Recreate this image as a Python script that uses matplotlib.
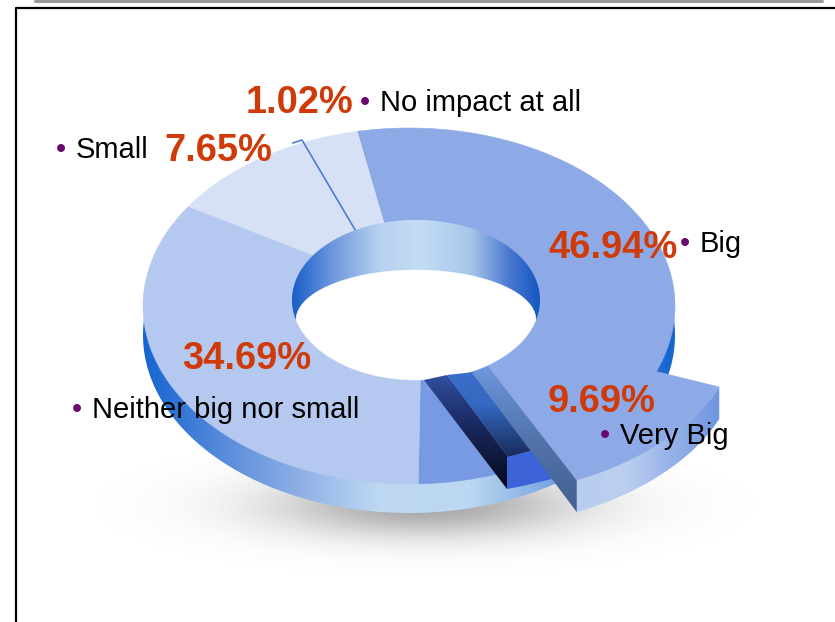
import numpy as np
import matplotlib
matplotlib.use("Agg")
import matplotlib.pyplot as plt
from matplotlib.colors import LinearSegmentedColormap
from matplotlib.patches import Polygon

plt.rcParams['font.family'] = ['Liberation Sans', 'DejaVu Sans']

# ---- chart content ----
categories = ["Big", "Very Big", "Neither big nor small", "Small", "No impact at all"]
percents = [46.94, 9.69, 34.69, 7.65, 1.02]

# The drawn arcs of this stock graphic do not follow the percentages; these
# arc widths (degrees) are read off the picture.
face_names = ["big", "notch", "neither", "small"]
face_arcs = [158, 31, 126, 45]
face_colors = ["#8eaae6", "#789ae2", "#b5c9f0", "#d6e1f5"]
exploded_arc = (112, 154.7)

# ---- geometry in pixel coordinates ----
W, H = 835, 622
OUT = (409, 306, 266, 178)
INN = (416, 300, 124, 80)
START = 349
START_INNER_SKEW = -3.5
DEPTH = 29
EXP_OUT = (455, 321, 285, 176)
EXP_INN = (455, 321, 78, 50)
EXP_DEPTH = 32

fig = plt.figure(figsize=(W / 100, H / 100), dpi=100, facecolor="white")
ax = fig.add_axes([0, 0, 1, 1])
ax.set_xlim(0, W)
ax.set_ylim(H, 0)
ax.axis("off")


def arc(ell, a0, a1, n=120):
    cx, cy, rx, ry = ell
    t = np.radians(np.linspace(a0, a1, n))
    return np.column_stack([cx + rx * np.sin(t), cy - ry * np.cos(t)])


def sector(o, i, a0, a1, ia0=None, ia1=None):
    ia0 = a0 if ia0 is None else ia0
    ia1 = a1 if ia1 is None else ia1
    return np.vstack([arc(o, a0, a1), arc(i, ia1, ia0)])


def gradient(poly, stops, axis="x", z=2):
    poly = np.asarray(poly)
    x0, x1 = poly[:, 0].min(), poly[:, 0].max()
    y0, y1 = poly[:, 1].min(), poly[:, 1].max()
    lo, hi = (x0, x1) if axis == "x" else (y0, y1)
    cm = LinearSegmentedColormap.from_list(
        "g", [((p - stops[0][0]) / (stops[-1][0] - stops[0][0]), c) for p, c in stops])
    s0, s1 = stops[0][0], stops[-1][0]
    v = np.linspace(lo, hi, 400)
    v = np.clip((v - s0) / (s1 - s0), 0, 1)
    data = v[None, :] if axis == "x" else v[:, None]
    im = ax.imshow(data, cmap=cm, vmin=0, vmax=1, extent=(x0, x1, y1, y0),
                   aspect="auto", zorder=z, interpolation="bilinear")
    patch = Polygon(poly, closed=True, transform=ax.transData, fc="none", ec="none")
    ax.add_patch(patch)
    im.set_clip_path(patch)
    ax.set_xlim(0, W)
    ax.set_ylim(H, 0)


# page frame
ax.plot([16, 16, W], [H, 8, 8], color="black", lw=1.6, zorder=1, solid_capstyle="butt")
ax.plot([35, 822], [0.5, 0.5], color="#9a9a9a", lw=2.2, zorder=1, solid_capstyle="round")

# soft ground shadow
xs, ys = np.meshgrid(np.linspace(0, W, 420), np.linspace(380, H, 240))
alpha = 0.5 * np.exp(-(((xs - 425) / 150) ** 2 + ((ys - 505) / 32) ** 2))
rgba = np.zeros(xs.shape + (4,))
rgba[..., :3] = 0.3
rgba[..., 3] = alpha
ax.imshow(rgba, extent=(0, W, H, 380), aspect="auto", zorder=1.5)
ax.set_xlim(0, W)
ax.set_ylim(H, 0)

# outer wall
wall_ell = (OUT[0], OUT[1] + DEPTH, OUT[2], OUT[3])
gradient(arc(wall_ell, 0, 360, 360),
         [(143, "#1565d0"), (215, "#5388da"), (300, "#8fb0e6"), (380, "#bfd9f2"),
          (470, "#bcd7f0"), (525, "#8fb7e6"), (600, "#4c86dc"), (675, "#1565d0")], z=2)

# top faces
a = START
for k, (name, span, col) in enumerate(zip(face_names, face_arcs, face_colors)):
    ia0 = a + START_INNER_SKEW if k == 0 else a
    ia1 = a + span + START_INNER_SKEW if k == len(face_arcs) - 1 else a + span
    ax.add_patch(Polygon(sector(OUT, INN, a, a + span, ia0, ia1), closed=True, fc=col, ec=col,
                         lw=0.4, zorder=3))
    a += span

# seam at the start of the big slice
seam = np.vstack([arc(OUT, START, START, 1), arc(INN, START + START_INNER_SKEW, START + START_INNER_SKEW, 1)])
ax.plot(seam[:, 0], seam[:, 1], color="#7f9fe0", lw=0.8, zorder=3.2)
# leader line of the small slices
ax.plot([357, 302, 293], [233, 140, 143], color="#4a7cd8", lw=1.2, zorder=3.3)

# inner wall and hole
gradient(arc(INN, 0, 360, 360),
         [(292, "#1a5ec8"), (330, "#6a94dc"), (380, "#b8d3f0"), (420, "#c4dcf3"),
          (470, "#a8c8ea"), (510, "#4a78d0"), (540, "#1458c0")], z=4)
top_hole = arc((416, 320, 120, 50), 270, 450, 120)
cut = np.degrees(np.arccos(-20 / 80))  # where the rim's lower arc meets the upper edge
low_hole = arc(INN, cut, 360 - cut, 120)
ax.add_patch(Polygon(np.vstack([top_hole, low_hole]), closed=True, fc="white", ec="white",
                     lw=0.3, zorder=4.5))

# notch walls under the pulled-out slice
gradient([(424, 380), (447, 375), (508, 457), (507, 489)],
         [(375, "#30509f"), (420, "#1c2c66"), (489, "#050818")], axis="y", z=5)
gradient([(447, 375), (474, 372), (531, 451), (508, 457)],
         [(372, "#3a6ec8"), (405, "#3568c0"), (457, "#182a58")], axis="y", z=5)
ax.add_patch(Polygon([(507, 457), (531, 451), (556, 478), (523, 486), (507, 489)],
                     closed=True, fc="#3c64d8", ec="none", zorder=5))

# pulled-out slice
a0, a1 = exploded_arc
left_top_out = arc(EXP_OUT, a1, a1, 1)[0]
left_top_in = arc(EXP_INN, a1, a1, 1)[0]
gradient([(472, 373), tuple(left_top_in), tuple(left_top_out),
          (left_top_out[0], left_top_out[1] + EXP_DEPTH)],
         [(367, "#6e96dc"), (440, "#5274ac"), (512, "#455f90")], axis="y", z=6)
outer_top = arc(EXP_OUT, a0, a1)
outer_bot = outer_top[::-1] + np.array([0, EXP_DEPTH])
gradient(np.vstack([outer_top, outer_bot]),
         [(577, "#b8cdf0"), (625, "#bccff1"), (720, "#6d94e0")], z=6.5)
ax.add_patch(Polygon(sector(EXP_OUT, EXP_INN, a0, a1), closed=True, fc="#8eaae6",
                     ec="#8eaae6", lw=0.3, zorder=7))

# labels
RED, PURPLE = "#cf3a08", "#6a0a6e"
pct_pos = [(548, 258), (548, 412), (182, 369), (164, 161), (246, 113)]
lab_pos = [(700, 252), (620, 444), (92, 418), (76, 158), (380, 111)]
for cat, p, (px, py), (lx, ly) in zip(categories, percents, pct_pos, lab_pos):
    ax.text(px, py, f"{p:.2f}%", color=RED, fontsize=27.4, fontweight="bold",
            ha="left", va="baseline", zorder=9)
    ax.text(lx, ly, cat, color="black", fontsize=21, ha="left", va="baseline", zorder=9)
    ax.text(lx - 15, ly, "•", color=PURPLE, fontsize=21, ha="center", va="baseline", zorder=9)

fig.savefig("out.png", dpi=100, facecolor="white")
